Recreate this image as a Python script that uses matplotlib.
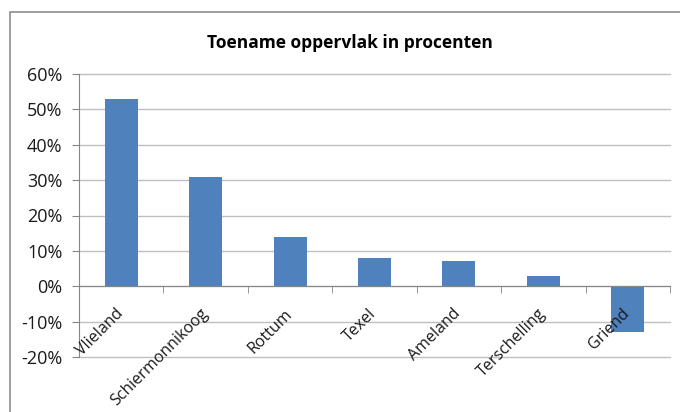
import matplotlib
matplotlib.use("Agg")
import matplotlib.pyplot as plt
from matplotlib.patches import Rectangle
from matplotlib.ticker import FuncFormatter, FixedLocator
from matplotlib.transforms import ScaledTranslation
import numpy as np

plt.rcParams['font.family'] = ['Open Sans', 'DejaVu Sans']

islands = ["Vlieland", "Schiermonnikoog", "Rottum", "Texel", "Ameland", "Terschelling", "Griend"]
increase = [0.53, 0.31, 0.14, 0.08, 0.07, 0.03, -0.13]
title = "Toename oppervlak in procenten"

W, H = 680, 412
fig = plt.figure(figsize=(W / 100, H / 100), dpi=100)

# chart frame
fig.patches.append(Rectangle((10 / W, -0.1), 1.2, (H - 12) / H + 0.1,
                             transform=fig.transFigure, fill=False,
                             edgecolor="#8c8c8c", linewidth=1.2))

ax = fig.add_axes([79 / W, 1 - 357 / H, (670 - 79) / W, (357 - 74) / H])
x = np.arange(len(islands))
ymin, ymax = -0.2, 0.6
yticks = np.round(np.arange(ymin, ymax + 0.01, 0.1), 2)

# horizontal gridlines
for v in yticks:
    ax.axhline(v, color="#bfbfbf", linewidth=1, zorder=1, clip_on=False)

ax.bar(x, increase, width=0.39, color="#4f81bd", zorder=2)

ax.set_xlim(-0.5, len(islands) - 0.5)
ax.set_ylim(ymin, ymax)
ax.set_yticks(yticks)
ax.yaxis.set_major_formatter(FuncFormatter(lambda v, _: f"{v * 100:.0f}%"))

for s in ["top", "right"]:
    ax.spines[s].set_visible(False)
ax.spines["left"].set_color("#868686")
ax.spines["bottom"].set_color("#868686")
ax.spines["bottom"].set_position(("data", 0))
ax.spines["left"].set_zorder(3)
ax.spines["bottom"].set_zorder(3)
ax.xaxis.set_zorder(4)
ax.yaxis.set_zorder(4)

ax.tick_params(axis="y", length=5, color="#868686", labelsize=13,
               labelcolor="#1a1a1a", pad=7)
ax.xaxis.set_minor_locator(FixedLocator(np.arange(-0.5, len(islands), 1.0)))
ax.tick_params(axis="x", which="minor", length=5, color="#868686")
ax.set_xticks(x)
ax.set_xticklabels(islands, rotation=45, ha="right", va="top",
                   rotation_mode="anchor", fontsize=11.5, color="#1a1a1a")
ax.tick_params(axis="x", which="major", length=0, pad=14)
shift = ScaledTranslation(-6 / 100, 0, fig.dpi_scale_trans)
for lbl in ax.get_xticklabels():
    lbl.set_transform(lbl.get_transform() + shift)

fig.text(350 / W, 1 - 43 / H, title, ha="center", va="center",
         fontsize=12.5, fontweight="bold", color="#000000")

fig.savefig("out.png", dpi=100)
